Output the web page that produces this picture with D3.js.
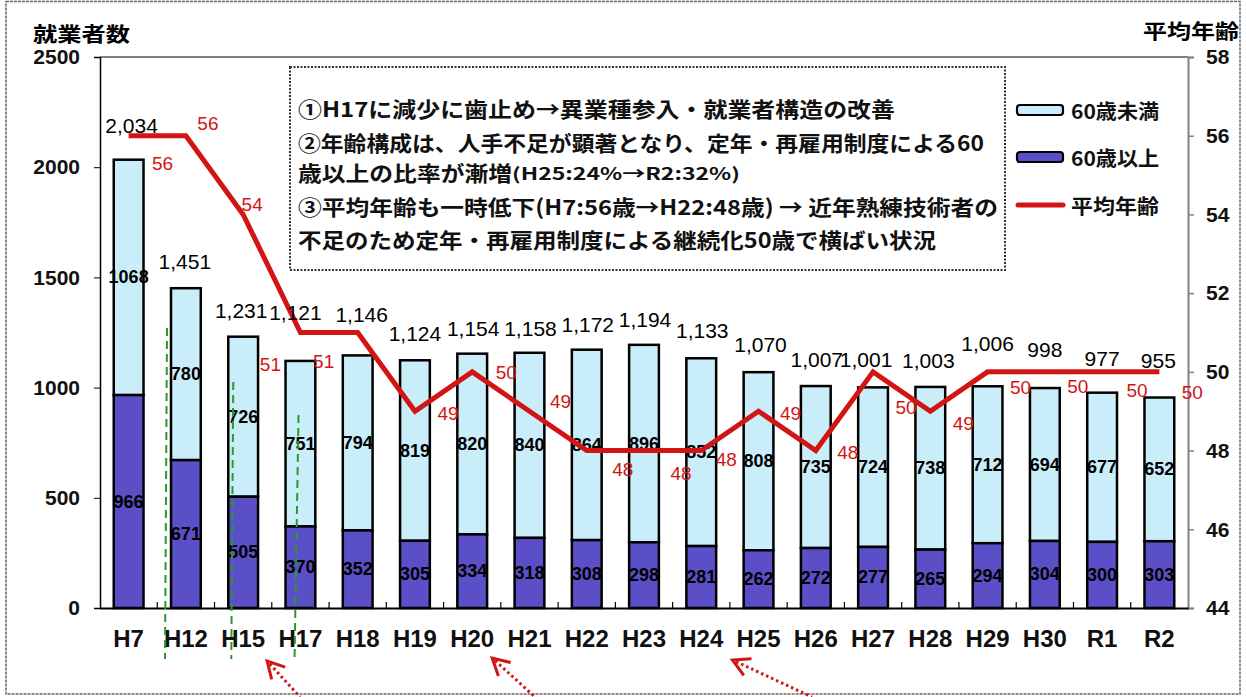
<!DOCTYPE html>
<html><head><meta charset="utf-8">
<script src="https://cdn.jsdelivr.net/npm/d3@7"></script>
<style>
html,body{margin:0;padding:0;background:#fff;}
svg{display:block;}
</style></head>
<body>
<svg id="chart" width="1246" height="697"></svg>
<script>
// ---------- DATA ----------
const categories = ["H7","H12","H15","H17","H18","H19","H20","H21","H22","H23","H24","H25","H26","H27","H28","H29","H30","R1","R2"];
const under60 = [1068,780,726,751,794,819,820,840,864,896,852,808,735,724,738,712,694,677,652];
const over60  = [966,671,505,370,352,305,334,318,308,298,281,262,272,277,265,294,304,300,303];
const avgAge  = [56,56,54,51,51,49,50,49,48,48,48,49,48,50,49,50,50,50,50];
const leftTicks  = [0,500,1000,1500,2000,2500];
const rightTicks = [44,46,48,50,52,54,56,58];
const seriesNames = ["60歳未満","60歳以上","平均年齢"];
const leftTitle = "就業者数";
const rightTitle = "平均年齢";
const noteLines = [
  ["①H17に減少に歯止め→異業種参入・就業者構造の改善"],
  ["②年齢構成は、人手不足が顕著となり、定年・再雇用制度による60"],
  ["歳以上の比率が漸増", "(H25:24%→R2:32%)"],
  ["③平均年齢も一時低下(H7:56歳→H22:48歳) → 近年熟練技術者の"],
  ["不足のため定年・再雇用制度による継続化50歳で横ばい状況"]
];

// ---------- LAYOUT (label nudges, px) ----------
const ageLabelNudge = [[34,28],[22,-12],[9,-10],[-30,32],[-34,29],[33,2],[34,1],[31,-10],[36,19],[37,23],[25,9],[32,2],[32,2],[33,36],[33,12],[33,16],[33,15],[35,19],[33,21]];
const totalLabelNudge = [[3,-27],[-1,-19],[-2,-19],[-5,-41],[4,-33],[0,-19],[1,-18],[1,-17],[1,-18],[1,-18],[1,-20],[2,-20],[1,-19],[-7,-20],[-2,-19],[0,-35],[0,-31],[0,-27],[-1,-30]];

const C_LIGHT = "#c9eef9", C_DARK = "#5a4fc6", C_RED = "#d21414", C_GREEN = "#2a9a2a";
const JP = "'Noto Sans CJK JP','Noto Sans CJK SC',sans-serif";
const LAT = "'Liberation Sans',Arial,sans-serif";

const svg = d3.select("#chart");
const L = 100, R = 1188, T = 57, B = 608;

const x = d3.scaleBand().domain(categories).range([L, R]).paddingInner(0.48).paddingOuter(0.24);
const yL = d3.scaleLinear().domain([0, 2500]).range([B, T]);
const yR = d3.scaleLinear().domain([44, 58]).range([B, T]);
const cx = c => x(c) + x.bandwidth() / 2;

// outer frame
svg.append("rect").attr("x",6).attr("y",1.5).attr("width",1234).attr("height",692.5)
  .attr("fill","none").attr("stroke","#666").attr("stroke-width",1.5).attr("stroke-dasharray","3,1");

// plot top border
svg.append("line").attr("x1",L).attr("x2",R).attr("y1",T).attr("y2",T)
  .attr("stroke","#8a807a").attr("stroke-width",2);

// bars
const stacked = categories.map((c,i)=>({c, lo: over60[i], hi: under60[i], total: over60[i]+under60[i]}));
const gBars = svg.append("g");
gBars.selectAll("rect.hi").data(stacked).join("rect")
  .attr("x", d=>x(d.c)).attr("width", x.bandwidth())
  .attr("y", d=>yL(d.total)).attr("height", d=>yL(d.lo)-yL(d.total))
  .attr("fill", C_LIGHT).attr("stroke","#000").attr("stroke-width",2.5);
gBars.selectAll("rect.lo").data(stacked).join("rect")
  .attr("x", d=>x(d.c)).attr("width", x.bandwidth())
  .attr("y", d=>yL(d.lo)).attr("height", d=>yL(0)-yL(d.lo))
  .attr("fill", C_DARK).attr("stroke","#000").attr("stroke-width",2.5);

// segment labels
const gSeg = svg.append("g").attr("font-family",LAT).attr("font-weight","bold").attr("font-size",18)
  .attr("text-anchor","middle").attr("dominant-baseline","central").attr("fill","#000");
gSeg.selectAll("text.hi").data(stacked).join("text")
  .attr("x", d=>cx(d.c)).attr("y", d=>(yL(d.total)+yL(d.lo))/2).text(d=>d.hi);
gSeg.selectAll("text.lo").data(stacked).join("text")
  .attr("x", d=>cx(d.c)).attr("y", d=>(yL(d.lo)+yL(0))/2).text(d=>d.lo);

// axes
const axL = svg.append("g").attr("transform",`translate(${L},0)`)
  .call(d3.axisLeft(yL).tickValues(leftTicks).tickFormat(d3.format("d")).tickSize(6).tickPadding(14));
axL.select(".domain").attr("stroke","#000").attr("stroke-width",1.5);
axL.selectAll(".tick line").attr("stroke","#000").attr("stroke-width",1);
axL.selectAll("text").attr("font-family",LAT).attr("font-size",21).attr("font-weight","bold").attr("fill","#111");

const axR = svg.append("g").attr("transform",`translate(${R},0)`)
  .call(d3.axisRight(yR).tickValues(rightTicks).tickFormat(d3.format("d")).tickSize(6).tickPadding(12));
axR.select(".domain").attr("stroke","#8a807a").attr("stroke-width",2);
axR.selectAll(".tick line").attr("stroke","#8a807a").attr("stroke-width",1.5);
axR.selectAll("text").attr("font-family",LAT).attr("font-size",21).attr("font-weight","bold").attr("fill","#111");

const axB = svg.append("g").attr("transform",`translate(0,${B})`)
  .call(d3.axisBottom(x).tickSize(0).tickPadding(22));
axB.select(".domain").attr("stroke","#000").attr("stroke-width",2);
axB.selectAll("text").attr("font-family",LAT).attr("font-size",24).attr("font-weight","bold").attr("fill","#111");
// boundary ticks (inside, upward)
const bounds = categories.slice(1).map(c => x(c) - x.step()*x.paddingInner()/2);
svg.append("g").selectAll("line").data(bounds).join("line")
  .attr("x1",d=>d).attr("x2",d=>d).attr("y1",B).attr("y2",B-6)
  .attr("stroke","#000").attr("stroke-width",1.2);

// average age line
const line = d3.line().x((d,i)=>cx(categories[i])).y(d=>yR(d));
svg.append("path").datum(avgAge).attr("d", line)
  .attr("fill","none").attr("stroke",C_RED).attr("stroke-width",5).attr("stroke-linejoin","miter");

// age labels
svg.append("g").attr("font-family",LAT).attr("font-size",19).attr("fill",C_RED)
  .attr("text-anchor","middle").attr("dominant-baseline","central")
  .selectAll("text").data(avgAge).join("text")
  .attr("x",(d,i)=>cx(categories[i]) + ageLabelNudge[i][0])
  .attr("y",(d,i)=>yR(d) + ageLabelNudge[i][1])
  .text(d=>d);

// total labels
const fmt = d3.format(",");
svg.append("g").attr("font-family",LAT).attr("font-size",21).attr("fill","#000").attr("text-anchor","middle")
  .selectAll("text").data(stacked).join("text")
  .attr("x",(d,i)=>cx(d.c) + totalLabelNudge[i][0])
  .attr("y",(d,i)=>yL(d.total) + totalLabelNudge[i][1])
  .text(d=>fmt(d.total));

// axis titles
svg.append("text").attr("x",33).attr("y",33).attr("dominant-baseline","central")
  .attr("font-family",JP).attr("font-weight","bold").attr("font-size",20)
  .attr("textLength",97).attr("lengthAdjust","spacingAndGlyphs").text(leftTitle);
svg.append("text").attr("x",1143).attr("y",30).attr("dominant-baseline","central")
  .attr("font-family",JP).attr("font-weight","bold").attr("font-size",20)
  .attr("textLength",96).attr("lengthAdjust","spacingAndGlyphs").text(rightTitle);

// annotation box
svg.append("rect").attr("x",290).attr("y",67).attr("width",715).attr("height",203)
  .attr("fill","#fff").attr("stroke","#333").attr("stroke-width",2).attr("stroke-dasharray","2,1.5");
const noteY = [108,142,172,206,239];
const noteW = [597,686,null,700,638];
const gNote = svg.append("g").attr("font-family",JP).attr("font-weight","bold").attr("font-size",21).attr("fill","#111");
noteLines.forEach((parts,i)=>{
  const t = gNote.append("text").attr("x",298).attr("y",noteY[i]).attr("dominant-baseline","central");
  if (parts.length === 1) {
    t.text(parts[0]);
    if (noteW[i]) t.attr("textLength",noteW[i]).attr("lengthAdjust","spacingAndGlyphs");
  } else {
    t.append("tspan").text(parts[0]).attr("textLength",214).attr("lengthAdjust","spacingAndGlyphs");
    t.append("tspan").text(parts[1]).attr("font-size",17).attr("textLength",228).attr("lengthAdjust","spacingAndGlyphs");
  }
});

// legend
const lg = svg.append("g");
lg.append("rect").attr("x",1017).attr("y",105).attr("width",46).attr("height",10).attr("rx",3)
  .attr("fill",C_LIGHT).attr("stroke","#000").attr("stroke-width",2.2);
lg.append("rect").attr("x",1017).attr("y",152).attr("width",46).attr("height",10).attr("rx",3)
  .attr("fill",C_DARK).attr("stroke","#000").attr("stroke-width",2.2);
lg.append("line").attr("x1",1018).attr("x2",1063).attr("y1",205).attr("y2",205)
  .attr("stroke",C_RED).attr("stroke-width",5).attr("stroke-linecap","round");
[110,157,205].forEach((yy,i)=>{
  lg.append("text").attr("x",1071).attr("y",yy).attr("dominant-baseline","central")
    .attr("font-family",JP).attr("font-weight","bold").attr("font-size",20).attr("fill","#111")
    .attr("textLength",88).attr("lengthAdjust","spacingAndGlyphs").text(seriesNames[i]);
});

// green dashed markers (annotations)
const greenMarks = [["H12",-4,-6,1270],["H15",5,3,1025],["H17",13,9,876]];
svg.append("g").selectAll("line").data(greenMarks).join("line")
  .attr("x1",d=>x(d[0])+d[1]).attr("x2",d=>x(d[0])+d[2])
  .attr("y1",d=>yL(d[3])).attr("y2",659)
  .attr("stroke",C_GREEN).attr("stroke-width",2).attr("stroke-dasharray","8,5");

// red dotted arrows (annotations)
const arrows = [["H15",24,661,300],["H20",20,658,535],["H25",-26,660,812]];
const ga = svg.append("g");
arrows.forEach(a=>{
  const tx = cx(a[0]) + a[1], ty = a[2], ex = a[3], ey = 697;
  const ang = Math.atan2(ey-ty, ex-tx);
  ga.append("line").attr("x1",tx+4*Math.cos(ang)).attr("y1",ty+4*Math.sin(ang)).attr("x2",ex).attr("y2",ey)
    .attr("stroke",C_RED).attr("stroke-width",3).attr("stroke-dasharray","2.5,3");
  const h = 19, spread = 0.5;
  const p1 = [tx + h*Math.cos(ang-spread), ty + h*Math.sin(ang-spread)];
  const p2 = [tx + h*Math.cos(ang+spread), ty + h*Math.sin(ang+spread)];
  ga.append("path").attr("d",`M${p1}L${tx},${ty}L${p2}`)
    .attr("fill","none").attr("stroke",C_RED).attr("stroke-width",3);
});
</script>
</body></html>
